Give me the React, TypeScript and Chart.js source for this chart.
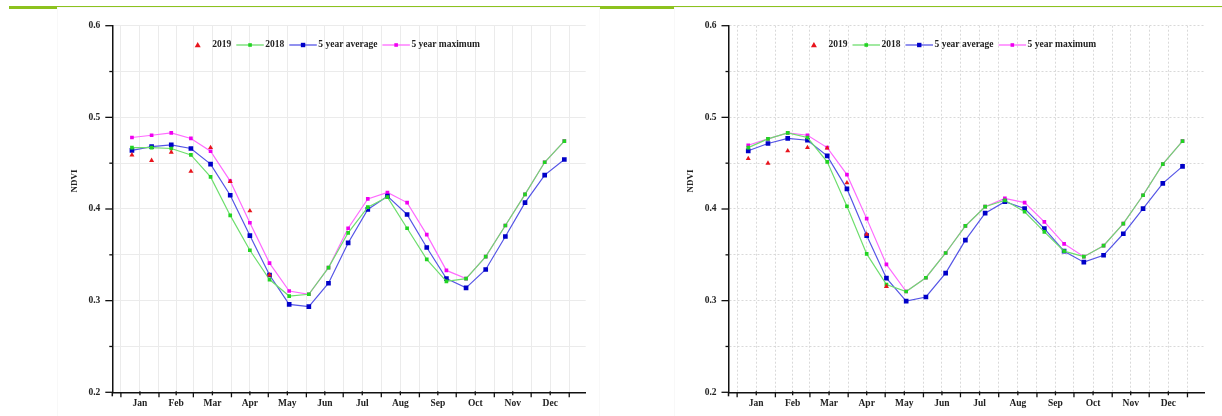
import React, { useEffect, useRef } from "react";
import { Chart, registerables } from "chart.js";

Chart.register(...registerables);

// ---------- data ----------
// 16-day composite periods (mid day of year)
const periodDays = [9, 25, 41, 57, 73, 89, 105, 121, 137, 153, 169, 185, 201, 217, 233, 249, 265, 281, 297, 313, 329, 345, 361];
const monthNames = ["Jan", "Feb", "Mar", "Apr", "May", "Jun", "Jul", "Aug", "Sep", "Oct", "Nov", "Dec"];
const monthStartDays = [0, 31, 59, 90, 120, 151, 181, 212, 243, 273, 304, 334, 365];
const yTickValues = [0.2, 0.25, 0.3, 0.35, 0.4, 0.45, 0.5, 0.55, 0.6];
const yLabelValues = [0.2, 0.3, 0.4, 0.5, 0.6];
const seriesLabels = ["2019", "2018", "5 year average", "5 year maximum"];

// Left panel
const a2019 = [0.459, 0.453, 0.462, 0.441, 0.467, 0.430, 0.398, 0.328];
const a2018 = [0.467, 0.467, 0.466, 0.459, 0.435, 0.393, 0.355, 0.323, 0.305, 0.307, 0.336, 0.374, 0.402, 0.413, 0.379, 0.345, 0.321, 0.324, 0.348, 0.382, 0.416, 0.451, 0.474];
const aAvg = [0.464, 0.468, 0.470, 0.466, 0.449, 0.415, 0.371, 0.328, 0.296, 0.2935, 0.319, 0.363, 0.3995, 0.414, 0.394, 0.358, 0.324, 0.314, 0.334, 0.370, 0.407, 0.437, 0.454];
const aMax = [0.478, 0.4805, 0.483, 0.477, 0.463, 0.4305, 0.385, 0.341, 0.3105, 0.307, 0.336, 0.379, 0.411, 0.418, 0.407, 0.372, 0.333, 0.324, 0.348, 0.382, 0.416, 0.451, 0.474];

// Right panel
const b2019 = [0.455, 0.450, 0.4635, 0.467, 0.4665, 0.4285, 0.3725, 0.3155];
const b2018 = [0.467, 0.4765, 0.483, 0.478, 0.4515, 0.403, 0.351, 0.3175, 0.310, 0.325, 0.352, 0.3815, 0.4025, 0.4095, 0.397, 0.375, 0.354, 0.348, 0.360, 0.384, 0.415, 0.449, 0.474];
const bAvg = [0.4635, 0.4715, 0.477, 0.475, 0.458, 0.422, 0.371, 0.3245, 0.2995, 0.304, 0.330, 0.366, 0.3955, 0.408, 0.4005, 0.3785, 0.354, 0.342, 0.3495, 0.373, 0.4005, 0.428, 0.4465];
const bMax = [0.4695, 0.4765, 0.483, 0.4805, 0.467, 0.4375, 0.3895, 0.3395, 0.310, 0.325, 0.352, 0.3815, 0.4025, 0.4115, 0.407, 0.386, 0.362, 0.348, 0.360, 0.384, 0.415, 0.449, 0.474];

// ---------- styling ----------
const SERIF = '"Liberation Serif", "Times New Roman", serif';
const PANEL_TOP = 8;
const PANEL_H = 408;
const RED = "#e8141c";
const GREEN_LINE = "#6ede6e";
const GREEN_PT = "#22d422";
const BLUE_LINE = "#5555e6";
const BLUE_PT = "#0000c8";
const MAG_LINE = "#ff6aff";
const MAG_PT = "#f000f0";

const monthMidDays = monthStartDays.slice(0, 12).map((d, i) => (d + monthStartDays[i + 1]) / 2);
const xTickValues = [...monthStartDays, ...monthMidDays].sort((p, q) => p - q);

type Geo = {
  left: number;
  width: number;
  axisX: number;
  axisEnd: number;
  topY: number;
  bottomY: number;
  dashed: boolean;
};

function isLabelValue(v: number) {
  return yLabelValues.some((l) => Math.abs(l - v) < 1e-6);
}

function NdviChart(props: { geo: Geo; s2019: number[]; s2018: number[]; avg: number[]; max: number[] }) {
  const { geo, s2019, s2018, avg, max } = props;
  const ref = useRef<HTMLCanvasElement>(null);

  useEffect(() => {
    if (!ref.current) return;
    const areaLeft = geo.axisX - geo.left;
    const areaRight = geo.axisEnd - geo.left;
    const areaTop = geo.topY - PANEL_TOP;
    const areaBottom = geo.bottomY - PANEL_TOP;
    const toPts = (arr: number[]) => arr.map((v, i) => ({ x: periodDays[i], y: v }));
    const gridColor = geo.dashed ? "#d9d9d9" : "#ebebeb";

    const decor = {
      id: "decor",
      afterDraw(chart: any) {
        const { ctx, chartArea, scales } = chart;
        const xs = scales.x;
        const ys = scales.y;
        const axisY = chartArea.bottom;
        const axisX = chartArea.left;
        ctx.save();
        ctx.strokeStyle = "#111";
        ctx.lineWidth = 1.3;
        const seg = (x1: number, y1: number, x2: number, y2: number) => {
          ctx.beginPath();
          ctx.moveTo(x1, y1);
          ctx.lineTo(x2, y2);
          ctx.stroke();
        };
        monthStartDays.forEach((d) => {
          const px = xs.getPixelForValue(d);
          seg(px, axisY, px, axisY + 5);
        });
        monthMidDays.forEach((d) => {
          const px = xs.getPixelForValue(d);
          seg(px, axisY - 1, px, axisY + 3);
        });
        yTickValues.forEach((v) => {
          const py = ys.getPixelForValue(v);
          seg(axisX - (isLabelValue(v) ? 7 : 3), py, axisX, py);
        });
        ctx.lineWidth = 1.5;
        seg(axisX, axisY, axisX, axisY + 4);

        // y title
        ctx.save();
        ctx.font = `bold 9px ${SERIF}`;
        ctx.fillStyle = "#222";
        ctx.translate(axisX - 38, 181 - PANEL_TOP);
        ctx.rotate(-Math.PI / 2);
        ctx.textAlign = "center";
        ctx.textBaseline = "middle";
        ctx.fillText("NDVI", 0, 0);
        ctx.restore();

        // legend
        const ly = 45 - PANEL_TOP;
        ctx.font = `bold 9.5px ${SERIF}`;
        ctx.fillStyle = "#222";
        ctx.textAlign = "left";
        ctx.textBaseline = "middle";
        let x = axisX + 85.4;
        ctx.fillStyle = RED;
        ctx.beginPath();
        ctx.moveTo(x, ly - 3);
        ctx.lineTo(x + 3, ly + 2.3);
        ctx.lineTo(x - 3, ly + 2.3);
        ctx.closePath();
        ctx.fill();
        x = axisX + 100;
        ctx.fillStyle = "#222";
        ctx.fillText(seriesLabels[0], x, ly);
        x += ctx.measureText(seriesLabels[0]).width + 5;
        const items = [
          { label: seriesLabels[1], line: GREEN_LINE, pt: GREEN_PT, s: 3.6 },
          { label: seriesLabels[2], line: BLUE_LINE, pt: BLUE_PT, s: 4.4 },
          { label: seriesLabels[3], line: MAG_LINE, pt: MAG_PT, s: 3.6 },
        ];
        items.forEach((it) => {
          ctx.strokeStyle = it.line;
          ctx.lineWidth = 1.3;
          seg(x, ly, x + 27.5, ly);
          ctx.fillStyle = it.pt;
          ctx.fillRect(x + 13.75 - it.s / 2, ly - it.s / 2, it.s, it.s);
          x += 29;
          ctx.fillStyle = "#222";
          ctx.fillText(it.label, x, ly);
          x += ctx.measureText(it.label).width + 5;
        });
        ctx.restore();
      },
    };

    const tickFont = { family: SERIF, size: 9.5, weight: "bold" as const };

    const chart = new Chart(ref.current, {
      type: "line",
      data: {
        datasets: [
          {
            label: seriesLabels[0],
            data: toPts(s2019),
            showLine: false,
            pointStyle: "triangle",
            pointRadius: 2.9,
            backgroundColor: RED,
            borderColor: RED,
            pointBorderWidth: 0,
          },
          {
            label: seriesLabels[1],
            data: toPts(s2018),
            borderColor: GREEN_LINE,
            borderWidth: 1.2,
            pointStyle: "rect",
            pointRadius: 2.6,
            pointBackgroundColor: GREEN_PT,
            pointBorderColor: GREEN_PT,
            pointBorderWidth: 0,
          },
          {
            label: seriesLabels[2],
            data: toPts(avg),
            borderColor: BLUE_LINE,
            borderWidth: 1.2,
            pointStyle: "rect",
            pointRadius: 3.3,
            pointBackgroundColor: BLUE_PT,
            pointBorderColor: BLUE_PT,
            pointBorderWidth: 0,
          },
          {
            label: seriesLabels[3],
            data: toPts(max),
            borderColor: MAG_LINE,
            borderWidth: 1.2,
            pointStyle: "rect",
            pointRadius: 2.6,
            pointBackgroundColor: MAG_PT,
            pointBorderColor: MAG_PT,
            pointBorderWidth: 0,
          },
        ],
      },
      options: {
        responsive: false,
        animation: false,
        events: [],
        layout: { padding: { top: areaTop, right: geo.width - areaRight, left: 0, bottom: 0 } },
        plugins: { legend: { display: false }, tooltip: { enabled: false }, title: { display: false } },
        scales: {
          x: {
            type: "linear",
            min: -7,
            max: 378.4,
            afterBuildTicks: (s: any) => {
              s.ticks = xTickValues.map((v) => ({ value: v }));
            },
            afterFit: (s: any) => {
              s.height = PANEL_H - areaBottom;
            },
            ticks: {
              autoSkip: false,
              maxRotation: 0,
              padding: 6,
              color: "#222",
              font: tickFont,
              callback: (v: any) => {
                const i = monthMidDays.indexOf(Number(v));
                return i >= 0 ? monthNames[i] : "";
              },
            },
            grid: { color: gridColor, lineWidth: 1, drawTicks: false },
            border: { color: "#111", width: 1.5, dash: geo.dashed ? [2, 2] : [] },
          },
          y: {
            type: "linear",
            min: 0.2,
            max: 0.6,
            afterBuildTicks: (s: any) => {
              s.ticks = yTickValues.map((v) => ({ value: v }));
            },
            afterFit: (s: any) => {
              s.width = areaLeft;
            },
            ticks: {
              padding: 12,
              color: "#222",
              font: tickFont,
              callback: (v: any) => (isLabelValue(Number(v)) ? Number(v).toFixed(1) : ""),
            },
            grid: { color: gridColor, lineWidth: 1, drawTicks: false },
            border: { color: "#111", width: 1.5, dash: geo.dashed ? [2, 2] : [] },
          },
        },
      } as any,
      plugins: [decor],
    });
    return () => chart.destroy();
  }, []);

  return (
    <div
      style={{
        position: "absolute",
        left: geo.left,
        top: PANEL_TOP,
        width: geo.width,
        height: PANEL_H,
        background: "#fff",
        boxShadow: "0 0 0 1px #f8f8f8",
      }}
    >
      <canvas ref={ref} width={geo.width} height={PANEL_H} style={{ width: geo.width, height: PANEL_H, display: "block" }} />
    </div>
  );
}

const leftGeo: Geo = { left: 58, width: 541, axisX: 112.3, axisEnd: 585.7, topY: 22.5, bottomY: 392.3, dashed: false };
const rightGeo: Geo = { left: 675, width: 547, axisX: 728.5, axisEnd: 1204, topY: 22.5, bottomY: 392.3, dashed: true };

export default function App() {
  return (
    <div
      style={{
        position: "fixed",
        left: 0,
        top: 0,
        width: 1222,
        height: 416,
        background: "#fff",
        overflow: "hidden",
      }}
    >
      <div style={{ position: "absolute", left: 9, top: 6, width: 1213, height: 3, background: "#8cc21e" }} />
      <NdviChart geo={leftGeo} s2019={a2019} s2018={a2018} avg={aAvg} max={aMax} />
      <NdviChart geo={rightGeo} s2019={b2019} s2018={b2018} avg={bAvg} max={bMax} />
    </div>
  );
}
